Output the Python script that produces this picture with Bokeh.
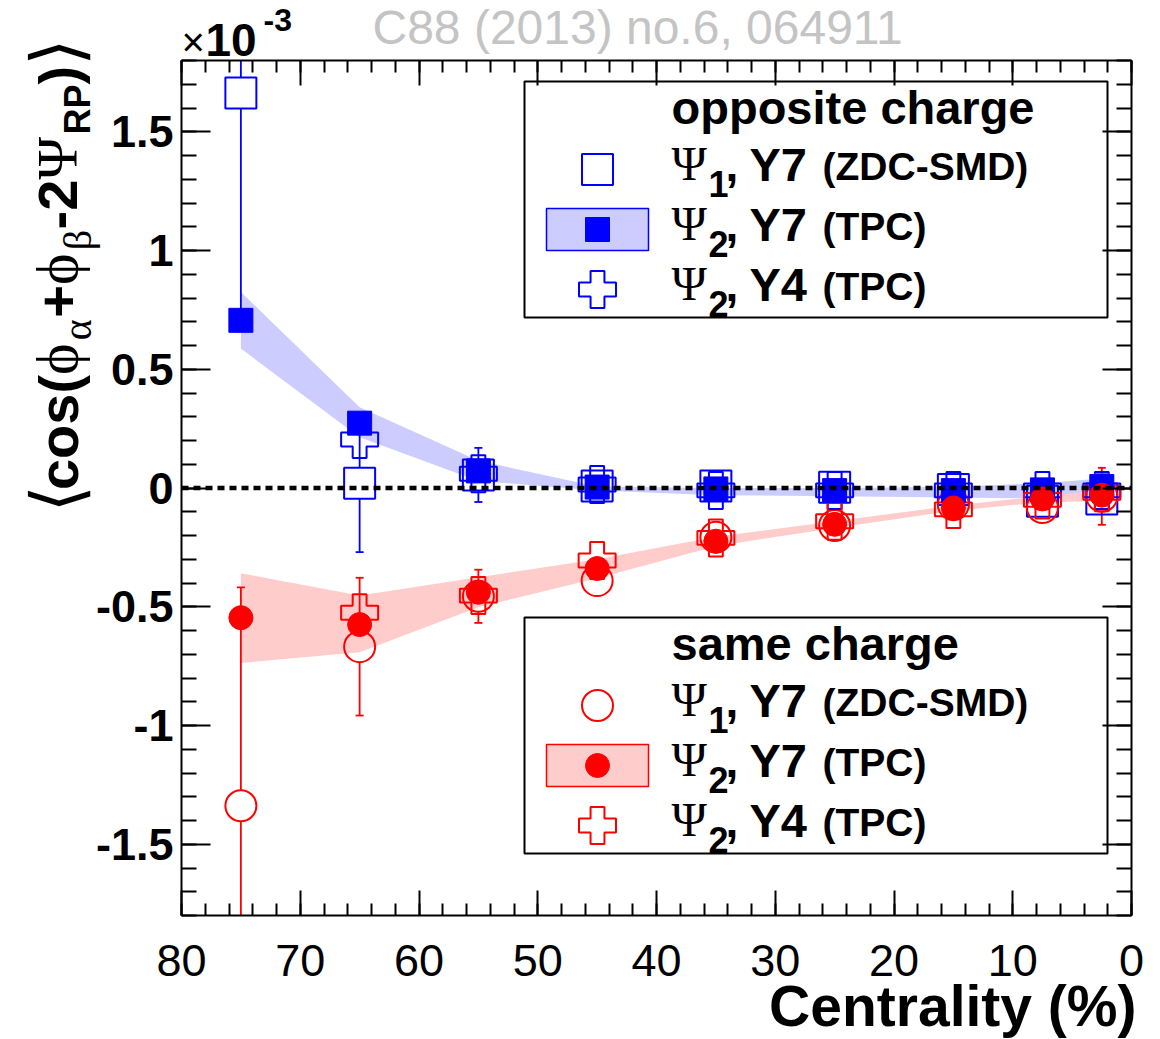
import numpy as np
from bokeh.plotting import figure
from bokeh.models import Range1d, LinearAxis, FixedTicker, Label, BoxAnnotation
from bokeh.embed import file_html
from bokeh.resources import INLINE

# ---------------- data (values in units of 1e-3) ----------------
centrality = [75, 65, 55, 45, 35, 25, 15, 7.5, 2.5]
centrality_y4 = [65, 55, 45, 35, 25, 15, 7.5, 2.5]

# opposite charge
opp_psi1 = [1.663, 0.020, 0.055, 0.008, 0.008, 0.003, -0.006, -0.056, -0.046]
opp_psi1_err = [0.95, 0.29, 0.114, 0.06, 0.06, 0.06, 0.06, 0.06, 0.06]
opp_psi2 = [0.706, 0.273, 0.072, 0.004, -0.004, -0.011, -0.011, -0.008, 0.006]
opp_psi2_err = [0.04, 0.04, 0.03, 0.02, 0.015, 0.015, 0.015, 0.015, 0.015]
opp_psi2_sys_lo = [0.587, 0.214, 0.030, -0.011, -0.030, -0.035, -0.040, -0.045, -0.020]
opp_psi2_sys_hi = [0.825, 0.340, 0.115, 0.006, 0.000, 0.000, 0.005, 0.020, 0.040]
opp_y4 = [0.204, 0.060, 0.015, -0.010, -0.010, -0.010, -0.010, -0.010]
opp_y4_err = [0.05, 0.04, 0.03, 0.03, 0.03, 0.03, 0.03, 0.03]

# same charge
same_psi1 = [-1.338, -0.668, -0.456, -0.390, -0.207, -0.158, -0.070, -0.082, -0.035]
same_psi1_err = [0.92, 0.29, 0.112, 0.06, 0.06, 0.06, 0.06, 0.06, 0.12]
same_psi2 = [-0.546, -0.575, -0.439, -0.339, -0.224, -0.153, -0.084, -0.046, -0.030]
same_psi2_err = [0.04, 0.04, 0.03, 0.02, 0.015, 0.015, 0.015, 0.015, 0.015]
same_psi2_sys_lo = [-0.737, -0.692, -0.502, -0.380, -0.245, -0.168, -0.096, -0.060, -0.055]
same_psi2_sys_hi = [-0.359, -0.453, -0.376, -0.300, -0.205, -0.140, -0.074, -0.035, -0.010]
same_y4 = [-0.525, -0.453, -0.305, -0.210, -0.140, -0.090, -0.050, -0.020]
same_y4_err = [0.05, 0.04, 0.03, 0.03, 0.03, 0.03, 0.03, 0.03]

x_ticks = [80, 70, 60, 50, 40, 30, 20, 10, 0]
x_tick_labels = ["80", "70", "60", "50", "40", "30", "20", "10", "0"]
y_ticks = [-1.5, -1.0, -0.5, 0.0, 0.5, 1.0, 1.5]
y_tick_labels = ["-1.5", "-1", "-0.5", "0", "0.5", "1", "1.5"]

legend_titles = ["opposite charge", "same charge"]
legend_rows = [("1", "Y7", "(ZDC-SMD)"), ("2", "Y7", "(TPC)"), ("2", "Y4", "(TPC)")]

# ---------------- layout ----------------
W, H = 1160, 1039
FL, FT, FR, FB = 181, 60, 1131, 915          # visible frame edges (page px)
X0, X1 = 80, 0                               # axis range (left, right)
Y0, Y1 = -1.8, 1.8                           # axis range (bottom, top)
KX = (FR - FL) / (X0 - X1)
KY = (FB - FT) / (Y1 - Y0)
XS, XE = X0 + FL / KX, X1 - (W - FR) / KX    # canvas-wide data range
YS, YE = Y0 - (H - FB) / KY, Y1 + FT / KY

BLUE, RED = "#0000ff", "#ff0000"
BLUE_BAND, RED_BAND = "#ccccff", "#ffcccc"
SANS, SERIF = "Liberation Sans", "Liberation Serif"

def px2x(px):
    return XS + px / W * (XE - XS)

def py2y(py):
    return YE - py / H * (YE - YS)

p = figure(width=W, height=H, x_range=Range1d(XS, XE), y_range=Range1d(YS, YE),
           output_backend="svg", toolbar_location=None,
           x_axis_type=None, y_axis_type=None, min_border=0)
p.outline_line_color = None
p.background_fill_color = "white"
p.border_fill_color = "white"

x_minor = list(range(0, 81, 2))
y_minor = [round(-1.8 + 0.1 * i, 1) for i in range(37)]

def add_axis(side, loc, bounds, ticks, minor, labels, tick_in, minor_in, show, style, standoff):
    ax = LinearAxis(fixed_location=loc, bounds=bounds,
                    ticker=FixedTicker(ticks=ticks, minor_ticks=minor),
                    major_tick_in=tick_in, major_tick_out=0,
                    minor_tick_in=minor_in, minor_tick_out=0,
                    axis_line_color="black", axis_line_width=2,
                    major_tick_line_width=2, minor_tick_line_width=2,
                    major_label_overrides={t: l for t, l in zip(ticks, labels)})
    if show:
        ax.major_label_text_font = SANS
        ax.major_label_text_font_size = "45px"
        ax.major_label_text_font_style = style
        ax.major_label_text_color = "black"
        ax.major_label_standoff = standoff
    else:
        ax.major_label_text_color = None
        ax.major_label_standoff = 0
    p.add_layout(ax, side)

add_axis("below", Y0, (X1, X0), x_ticks, x_minor, x_tick_labels, 25, 12, True, "normal", 29)
add_axis("above", Y1, (X1, X0), x_ticks, x_minor, x_tick_labels, 25, 12, False, "normal", 0)
add_axis("left", X0, (Y0, Y1), y_ticks, y_minor, y_tick_labels, 29, 15, True, "bold", 8)
add_axis("right", X1, (Y0, Y1), y_ticks, y_minor, y_tick_labels, 29, 15, False, "bold", 0)

# ---------------- systematic bands ----------------
p.varea(x=centrality, y1=opp_psi2_sys_lo, y2=opp_psi2_sys_hi, fill_color=BLUE_BAND)
p.varea(x=centrality, y1=same_psi2_sys_lo, y2=same_psi2_sys_hi, fill_color=RED_BAND)

# ---------------- error bars (start at marker edge, clipped at the frame) ----------------
LW_ERR = 1.8
CAP = 8

def err_bars(xs, ys, es, half_px, color):
    xs = np.asarray(xs, float); ys = np.asarray(ys, float); es = np.asarray(es, float)
    half = half_px / KY
    m = es > half
    x, y, e = xs[m], ys[m], es[m]
    up = np.minimum(y + e, Y1)
    lo = np.maximum(y - e, Y0)
    p.segment(x0=x, y0=np.minimum(y + half, Y1), x1=x, y1=up, line_color=color, line_width=LW_ERR)
    p.segment(x0=x, y0=np.maximum(y - half, Y0), x1=x, y1=lo, line_color=color, line_width=LW_ERR)
    cu = (y + e) < Y1
    cl = (y - e) > Y0
    p.scatter(x=x[cu], y=(y + e)[cu], marker="dash", size=CAP, line_color=color, line_width=LW_ERR)
    p.scatter(x=x[cl], y=(y - e)[cl], marker="dash", size=CAP, line_color=color, line_width=LW_ERR)

err_bars(centrality, opp_psi1, opp_psi1_err, 15.5, BLUE)
err_bars(centrality, same_psi1, same_psi1_err, 15.5, RED)
err_bars(centrality_y4, opp_y4, opp_y4_err, 18.5, BLUE)
err_bars(centrality_y4, same_y4, same_y4_err, 18.5, RED)
err_bars(centrality, opp_psi2, opp_psi2_err, 12, BLUE)
err_bars(centrality, same_psi2, same_psi2_err, 12, RED)

# ---------------- markers ----------------
OPEN, FILLED, CROSS = 31, 24, 37
p.scatter(centrality, opp_psi1, marker="square", size=OPEN, fill_color=None, line_color=BLUE, line_width=2)
p.scatter(centrality, same_psi1, marker="circle", size=OPEN, fill_color=None, line_color=RED, line_width=2)
p.scatter(centrality_y4, opp_y4, marker="plus", size=CROSS, fill_color=None, line_color=BLUE, line_width=2)
p.scatter(centrality_y4, same_y4, marker="plus", size=CROSS, fill_color=None, line_color=RED, line_width=2)
p.scatter(centrality, opp_psi2, marker="square", size=FILLED, fill_color=BLUE, line_color=BLUE)
p.scatter(centrality, same_psi2, marker="circle", size=FILLED, fill_color=RED, line_color=RED)

# zero reference line across the axis range
p.segment(x0=[X0], y0=[0], x1=[X1], y1=[0], line_color="black", line_width=4.5, line_dash="7 5")

# ---------------- text helper (baseline given in page px) ----------------
MID = 0.3465   # label anchor sits at the middle of the text box

def label(px, py, text, size, font=SANS, style="bold", color="black", rotated=False, align="left"):
    if rotated:
        ax_, ay_ = px - MID * size, py
        ang = np.pi / 2
    else:
        ax_, ay_ = px, py - MID * size
        ang = 0.0
    p.add_layout(Label(x=ax_, y=H - ay_, x_units="screen", y_units="screen", text=text,
                       text_font=font, text_font_size=f"{size}px", text_font_style=style,
                       text_color=color, angle=ang, text_align=align,
                       text_baseline="middle"))

# ---------------- legends ----------------
LEG_L, LEG_R = 524, 1107
LEG_TOPS = [81, 617]
LEG_H = 236
KEY_X = 597
markers_for = [
    [("square", OPEN, None, BLUE), ("square", FILLED, BLUE, BLUE), ("plus", CROSS, None, BLUE)],
    [("circle", OPEN, None, RED), ("circle", FILLED, RED, RED), ("plus", CROSS, None, RED)],
]
bands_for = [(BLUE_BAND, BLUE), (RED_BAND, RED)]

def box(l, t, r, b, fill, line, lw):
    p.add_layout(BoxAnnotation(left=l, right=r, top=H - t, bottom=H - b,
                               left_units="screen", right_units="screen", top_units="screen",
                               bottom_units="screen", fill_color=fill, fill_alpha=1.0,
                               line_color=line, line_alpha=1.0, line_width=lw, level="underlay"))

for li, top in enumerate(LEG_TOPS):
    box(LEG_L, top, LEG_R, top + LEG_H, "white", "black", 2)
    label(671, top + 42, legend_titles[li], 47)
    for ri, (sub, run, det) in enumerate(legend_rows):
        base = top + 99 + 60 * ri
        cy = base - 11
        if ri == 1:
            bc, bl = bands_for[li]
            box(KEY_X - 51, cy - 21, KEY_X + 51, cy + 21, bc, bl, 1.5)
        mk, sz, fc, lc = markers_for[li][ri]
        p.scatter([px2x(KEY_X)], [py2y(cy)], marker=mk, size=sz, fill_color=fc, line_color=lc,
                  line_width=2 if fc is None else 1)
        label(671, base, "Ψ", 48, font=SERIF, style="normal")
        label(708, base + 16, sub, 36)
        label(725, base, ",", 46)
        label(749, base, run, 47)
        label(822, base, det, 39)

# ---------------- y axis title (rotated, built from pieces) ----------------
YL_BASE_X = 77
ylabel_pieces = [
    # text, font, size, style, baseline shift(px), width in em
    ("⟨", "DejaVu Sans", 70, "normal", 4, 0.32),
    ("cos(", SANS, 56, "bold", 0, 2.056),
    ("ϕ", SERIF, 60, "normal", 0, 0.58),
    ("α", SERIF, 40, "normal", 14, 0.56),
    ("+", SANS, 56, "bold", 0, 0.584),
    ("ϕ", SERIF, 60, "normal", 0, 0.58),
    ("β", SERIF, 40, "normal", 14, 0.52),
    ("-2", SANS, 56, "bold", 0, 0.889),
    ("Ψ", SERIF, 58, "normal", 0, 0.78),
    ("RP", SANS, 36, "bold", 12, 1.389),
    (")", SANS, 56, "bold", 0, 0.333),
    ("⟩", "DejaVu Sans", 70, "normal", 4, 0.32),
]
ypos = 512.0
for txt, fnt, size, style, shift, wem in ylabel_pieces:
    label(YL_BASE_X + shift, ypos, txt, size, font=fnt, style=style, rotated=True)
    ypos -= wem * size

# ---------------- other texts ----------------
label(181, 55, "×", 40, style="normal")
label(205, 55, "10", 46)
label(263, 31, "-3", 32)
label(372, 44, "C88 (2013) no.6, 064911", 48, style="normal", color="#c4c4c4")
label(1136, 1025, "Centrality (%)", 57, align="right")

open("out.html", "w").write(file_html(p, INLINE))
